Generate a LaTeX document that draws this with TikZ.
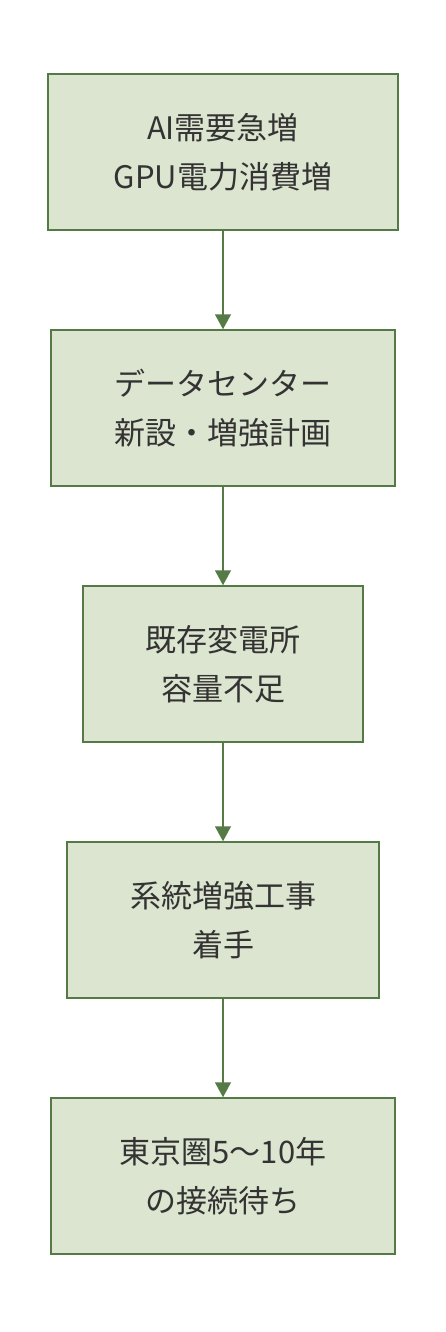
\documentclass[tikz,border=0pt]{standalone}
\usepackage{fontspec}
\setmainfont{Noto Sans CJK JP}
\usetikzlibrary{arrows.meta}
\definecolor{boxfill}{HTML}{DCE5CF}
\definecolor{boxline}{HTML}{557A46}
\definecolor{boxtext}{HTML}{333333}
\begin{document}
\begin{tikzpicture}[x=1pt,y=-1pt,
    stage/.style={draw=boxline,fill=boxfill,line width=1.5pt,align=center,
      minimum height=156pt,inner sep=0pt,text=boxtext,
      font=\fontsize{31}{49}\selectfont},
    flow/.style={draw=boxline,line width=1.5pt,-{Triangle[width=16pt,length=15pt]}}]
  \useasboundingbox (0,0) rectangle (446,1332);
  % stages
  \node[stage,minimum width=350pt] (demand) at (223,152) {AI需要急増\\GPU電力消費増};
  \node[stage,minimum width=344pt] (dc) at (223,408) {データセンター\\新設・増強計画};
  \node[stage,minimum width=280pt] (substation) at (223,664) {既存変電所\\容量不足};
  \node[stage,minimum width=312pt] (grid) at (223,920) {系統増強工事\\着手};
  \node[stage,minimum width=344pt] (wait) at (223,1176) {東京圏5〜10年\\の接続待ち};
  % arrows
  \draw[flow] (demand) -- (dc);
  \draw[flow] (dc) -- (substation);
  \draw[flow] (substation) -- (grid);
  \draw[flow] (grid) -- (wait);
\end{tikzpicture}
\end{document}
